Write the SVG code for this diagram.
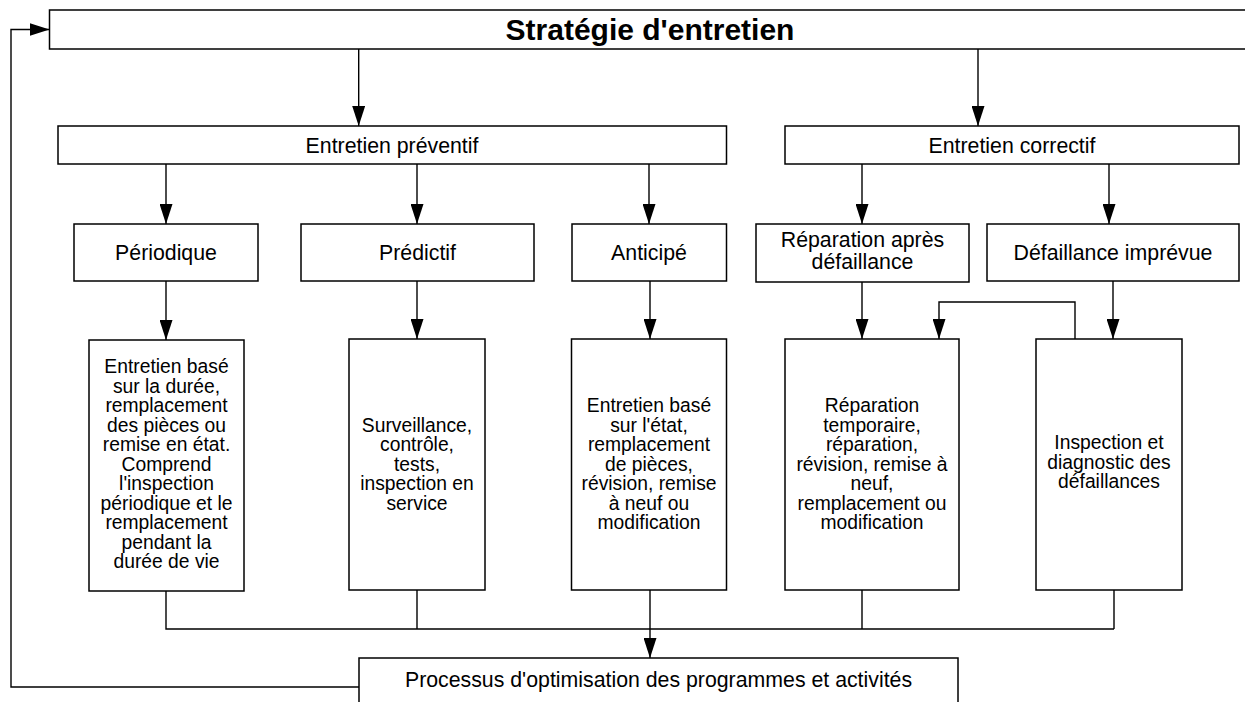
<svg xmlns="http://www.w3.org/2000/svg" width="1245" height="702" viewBox="0 0 1245 702">
<defs>
<marker id="ah" markerUnits="userSpaceOnUse" markerWidth="20" markerHeight="13" refX="20" refY="6.5" orient="auto">
<path d="M0,0 L20,6.5 L0,13 z" fill="#000"/>
</marker>
<style>
.box{fill:#fff;stroke:#000;stroke-width:1.5}
.ln{fill:none;stroke:#000;stroke-width:1.4}
.ar{fill:none;stroke:#000;stroke-width:1.4;marker-end:url(#ah)}
text{font-family:"Liberation Sans",Arial,sans-serif;fill:#000;text-anchor:middle}
.t{font-size:21.3px}
.d{font-size:19.3px}
.title{font-size:30px;font-weight:bold}
</style>
</defs>
<rect width="1245" height="702" fill="#fff"/>
<g id="connectors">
<path class="ar" d="M358.7,49 V126"/>
<path class="ar" d="M978,49 V126"/>
<path class="ar" d="M166,164 V224"/>
<path class="ar" d="M417,164 V224"/>
<path class="ar" d="M649,164 V224"/>
<path class="ar" d="M862,164 V224"/>
<path class="ar" d="M1109,164 V224"/>
<path class="ar" d="M166,281 V340"/>
<path class="ar" d="M417,281 V339"/>
<path class="ar" d="M650,281 V339"/>
<path class="ar" d="M862,282 V339"/>
<path class="ar" d="M1113,281 V339"/>
<path class="ar" d="M1075,339 V302 H939 V339"/>
<path class="ln" d="M166,591 V629 H1114 M417,590 V629 M862,590 V629 M1114,590 V629"/>
<path class="ar" d="M650,590 V658"/>
<path class="ar" d="M359,687 H11 V29.5 H49.5"/>
</g>
<g id="strategie">
<rect class="box" x="49.5" y="10" width="1210" height="39"/>
<text class="title" x="650" y="40">Stratégie d'entretien</text>
</g>
<g id="preventif">
<rect class="box" x="58" y="126" width="668.5" height="38"/>
<text class="t" x="392" y="152.5">Entretien préventif</text>
</g>
<g id="correctif">
<rect class="box" x="785" y="126" width="454" height="38"/>
<text class="t" x="1012" y="152.5">Entretien correctif</text>
</g>
<g id="periodique">
<rect class="box" x="74" y="224" width="184" height="57"/>
<text class="t" x="166" y="260">Périodique</text>
</g>
<g id="predictif">
<rect class="box" x="301" y="224" width="233" height="57"/>
<text class="t" x="417.5" y="260">Prédictif</text>
</g>
<g id="anticipe">
<rect class="box" x="572" y="224" width="154.5" height="57"/>
<text class="t" x="649" y="260">Anticipé</text>
</g>
<g id="reparation">
<rect class="box" x="756" y="224" width="213" height="58"/>
<text class="t" x="862.5" y="247">Réparation après</text>
<text class="t" x="862.5" y="268.5">défaillance</text>
</g>
<g id="defaillance">
<rect class="box" x="987" y="224" width="252" height="57"/>
<text class="t" x="1113" y="260">Défaillance imprévue</text>
</g>
<g id="periodique-desc">
<rect class="box" x="89" y="340" width="155" height="251"/>
<text class="d" x="166.5" y="373.3">Entretien basé</text>
<text class="d" x="166.5" y="392.8">sur la durée,</text>
<text class="d" x="166.5" y="412.3">remplacement</text>
<text class="d" x="166.5" y="431.8">des pièces ou</text>
<text class="d" x="166.5" y="451.3">remise en état.</text>
<text class="d" x="166.5" y="470.8">Comprend</text>
<text class="d" x="166.5" y="490.3">l'inspection</text>
<text class="d" x="166.5" y="509.8">périodique et le</text>
<text class="d" x="166.5" y="529.3">remplacement</text>
<text class="d" x="166.5" y="548.8">pendant la</text>
<text class="d" x="166.5" y="568.3">durée de vie</text>
</g>
<g id="predictif-desc">
<rect class="box" x="349" y="339" width="136" height="251"/>
<text class="d" x="417" y="431.5">Surveillance,</text>
<text class="d" x="417" y="451">contrôle,</text>
<text class="d" x="417" y="470.5">tests,</text>
<text class="d" x="417" y="490">inspection en</text>
<text class="d" x="417" y="509.5">service</text>
</g>
<g id="anticipe-desc">
<rect class="box" x="571.5" y="339" width="155" height="251"/>
<text class="d" x="649" y="412">Entretien basé</text>
<text class="d" x="649" y="431.5">sur l'état,</text>
<text class="d" x="649" y="451">remplacement</text>
<text class="d" x="649" y="470.5">de pièces,</text>
<text class="d" x="649" y="490">révision, remise</text>
<text class="d" x="649" y="509.5">à neuf ou</text>
<text class="d" x="649" y="529">modification</text>
</g>
<g id="reparation-desc">
<rect class="box" x="785" y="339" width="174" height="251"/>
<text class="d" x="872" y="412">Réparation</text>
<text class="d" x="872" y="431.5">temporaire,</text>
<text class="d" x="872" y="451">réparation,</text>
<text class="d" x="872" y="470.5">révision, remise à</text>
<text class="d" x="872" y="490">neuf,</text>
<text class="d" x="872" y="509.5">remplacement ou</text>
<text class="d" x="872" y="529">modification</text>
</g>
<g id="inspection-desc">
<rect class="box" x="1036" y="339" width="146" height="251"/>
<text class="d" x="1109" y="449">Inspection et</text>
<text class="d" x="1109" y="468.5">diagnostic des</text>
<text class="d" x="1109" y="488">défaillances</text>
</g>
<g id="processus">
<rect class="box" x="359" y="658" width="599" height="60"/>
<text class="t" x="658.5" y="687">Processus d'optimisation des programmes et activités</text>
</g>
</svg>
